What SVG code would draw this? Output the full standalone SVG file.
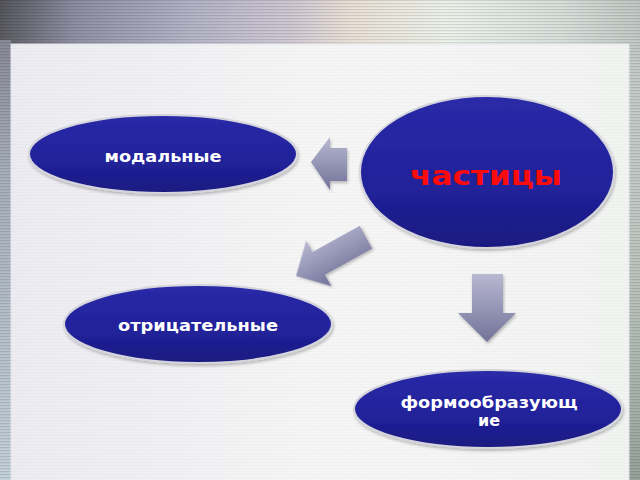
<svg xmlns="http://www.w3.org/2000/svg" width="640" height="480" viewBox="0 0 640 480">
<defs>
<linearGradient id="bgH" x1="0" y1="0" x2="1" y2="0">
<stop offset="0" stop-color="#55555c"/>
<stop offset="0.12" stop-color="#8e8ea4"/>
<stop offset="0.3" stop-color="#b4b4c8"/>
<stop offset="0.45" stop-color="#cfc8d4"/>
<stop offset="0.55" stop-color="#ece2d8"/>
<stop offset="0.7" stop-color="#eef4ec"/>
<stop offset="0.88" stop-color="#d8e0dc"/>
<stop offset="1" stop-color="#c0c8c4"/>
</linearGradient>
<linearGradient id="bgV" x1="0" y1="0" x2="0" y2="1">
<stop offset="0" stop-color="#ffffff" stop-opacity="0"/>
<stop offset="1" stop-color="#7a8a80" stop-opacity="0.6"/>
</linearGradient>
<linearGradient id="leftStrip" x1="0" y1="0" x2="0" y2="1">
<stop offset="0" stop-color="#8a8a98"/>
<stop offset="0.3" stop-color="#a8b0bc"/>
<stop offset="1" stop-color="#c4d2da"/>
</linearGradient>
<pattern id="stripes" width="4" height="3" patternUnits="userSpaceOnUse">
<rect width="4" height="1.2" fill="#000" fill-opacity="0.12"/>
</pattern>
<pattern id="stripesLight" width="4" height="3" patternUnits="userSpaceOnUse">
<rect width="4" height="1.2" fill="#000" fill-opacity="0.02"/>
</pattern>
<linearGradient id="panel" x1="0" y1="0" x2="1" y2="0">
<stop offset="0" stop-color="#ececf2"/>
<stop offset="0.5" stop-color="#f6f6f6"/>
<stop offset="1" stop-color="#f2f4f2"/>
</linearGradient>
<linearGradient id="node" x1="0" y1="0" x2="0" y2="1">
<stop offset="0" stop-color="#2a2aa8"/>
<stop offset="0.6" stop-color="#21219a"/>
<stop offset="1" stop-color="#191980"/>
</linearGradient>
<linearGradient id="arrowD" x1="0" y1="0" x2="0" y2="1" gradientUnits="objectBoundingBox">
<stop offset="0" stop-color="#b8b8d2"/>
<stop offset="1" stop-color="#727299"/>
</linearGradient>
<filter id="shadow" x="-10%" y="-10%" width="130%" height="140%">
<feGaussianBlur in="SourceAlpha" stdDeviation="1.5"/>
<feOffset dx="1" dy="2" result="b"/>
<feComponentTransfer><feFuncA type="linear" slope="0.25"/></feComponentTransfer>
<feMerge><feMergeNode/><feMergeNode in="SourceGraphic"/></feMerge>
</filter>
<style>
.node ellipse{fill:url(#node);stroke:#d4d4dc;stroke-width:2;filter:url(#shadow);}
.lbl{font-family:"DejaVu Sans","Verdana",sans-serif;font-weight:bold;font-size:15px;fill:#ffffff;text-anchor:middle;}
.title{font-family:"DejaVu Sans","Verdana",sans-serif;font-weight:bold;font-size:26px;fill:#ff0a0a;text-anchor:middle;}
.arr{fill:url(#arrowD);filter:url(#shadow);}
</style>
</defs>
<rect width="640" height="480" fill="url(#bgH)"/>
<rect width="640" height="480" fill="url(#bgV)"/>
<rect x="0" y="40" width="11" height="440" fill="url(#leftStrip)"/>
<rect width="640" height="480" fill="url(#stripes)"/>
<rect x="11" y="44" width="618" height="440" fill="url(#panel)" stroke="#e4e6ea" stroke-width="1"/>
<rect x="11" y="44" width="618" height="440" fill="url(#stripesLight)"/>

<g id="connectors">
<polygon class="arr" points="311,162 330,137 330,148 347,148 347,181 330,181 330,190"/>
<polygon class="arr" transform="translate(296,276) rotate(-29)" points="0,0 26,-26 26,-13 80,-13 80,13 26,13 26,26"/>
<polygon class="arr" points="472,274 503,274 503,313 516,313 487,342 458,313 472,313"/>
</g>

<g id="node-modalnye" class="node">
<ellipse cx="163" cy="154" rx="134" ry="39"/>
<text class="lbl" x="163" y="162" textLength="117" lengthAdjust="spacingAndGlyphs">модальные</text>
</g>
<g id="node-chastitsy" class="node">
<ellipse cx="487" cy="172" rx="127" ry="76"/>
<text class="title" x="486" y="185" textLength="152" lengthAdjust="spacingAndGlyphs">частицы</text>
</g>
<g id="node-otritsatelnye" class="node">
<ellipse cx="198" cy="324" rx="134" ry="39"/>
<text class="lbl" x="198" y="331" textLength="160" lengthAdjust="spacingAndGlyphs">отрицательные</text>
</g>
<g id="node-formoobrazuyushchie" class="node">
<ellipse cx="488" cy="409" rx="134" ry="39"/>
<text class="lbl" x="489" y="408" textLength="177" lengthAdjust="spacingAndGlyphs">формообразующ</text>
<text class="lbl" x="489" y="426" textLength="22" lengthAdjust="spacingAndGlyphs">ие</text>
</g>
</svg>
